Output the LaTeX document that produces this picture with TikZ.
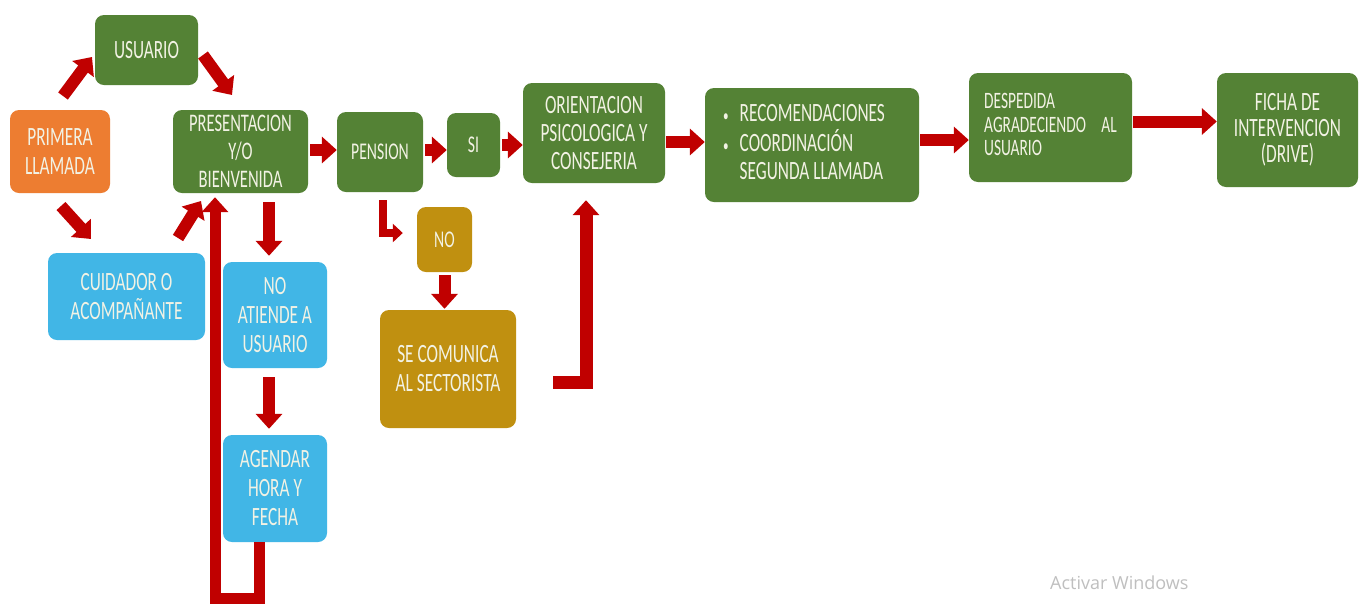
\documentclass[tikz,border=0pt]{standalone}
\usepackage{fontspec}
\setmainfont{Carlito}[FakeStretch=0.655]
\newfontfamily\wmfont{Open Sans}
\usetikzlibrary{arrows.meta,calc}
\definecolor{gr}{RGB}{84,130,53}
\definecolor{orng}{RGB}{237,125,49}
\definecolor{blu}{RGB}{65,182,230}
\definecolor{gold}{RGB}{192,144,16}
\definecolor{arrred}{RGB}{192,0,0}
\definecolor{txt}{RGB}{242,242,228}
\newcommand\fsz[2]{\fontsize{#1}{#2}\selectfont}
\tikzset{
  box/.style={rounded corners=9pt, align=center, text=txt, inner sep=2pt, font=\fsz{26.4}{29}},
  gbox/.style={box, fill=gr},
  obox/.style={box, fill=orng},
  bbox/.style={box, fill=blu},
  ybox/.style={box, fill=gold},
  arr/.style={draw=arrred, line width=12pt, line join=miter, -{Triangle[width=26pt,length=15pt]}},
  arrthin/.style={draw=arrred, line width=8pt, line join=miter, -{Triangle[width=18pt,length=10pt]}},
}
\begin{document}
\begin{tikzpicture}[x=1pt,y=-1pt]
\useasboundingbox (0,0) rectangle (1364,606);
\fill[white] (0,0) rectangle (1364,606);

% nodes
\node[gbox, minimum width=103pt, minimum height=70pt] (usuario) at (146.5,50) {USUARIO};
\node[obox, minimum width=100pt, minimum height=83pt] (primera) at (60,151.5) {PRIMERA\\LLAMADA};
\node[gbox, minimum width=135pt, minimum height=83pt, font=\fsz{25.3}{28}] (pres) at (240.5,151.5) {PRESENTACION\\Y/O\\BIENVENIDA};
\node[bbox, minimum width=157pt, minimum height=87pt] (cuid) at (126.5,296.5) {CUIDADOR O\\ACOMPAÑANTE};
\node[bbox, minimum width=104pt, minimum height=106pt] (noat) at (275,315) {NO\\ATIENDE A\\USUARIO};
\node[bbox, minimum width=104pt, minimum height=107pt] (agendar) at (275,488.5) {AGENDAR\\HORA Y\\FECHA};
\node[gbox, minimum width=86pt, minimum height=80pt, font=\fsz{24}{25}] (pension) at (380,152) {PENSION};
\node[gbox, minimum width=53pt, minimum height=64pt, font=\fsz{24}{25}] (si) at (473.5,145) {SI};
\node[ybox, minimum width=55pt, minimum height=65pt, font=\fsz{24}{25}] (no) at (444.5,239.5) {NO};
\node[ybox, minimum width=136pt, minimum height=118pt] (secom) at (448,369) {SE COMUNICA\\AL SECTORISTA};
\node[gbox, minimum width=142pt, minimum height=100pt, font=\fsz{26.4}{28}] (orient) at (594,133) {ORIENTACION\\PSICOLOGICA Y\\CONSEJERIA};
\node[gbox, minimum width=214pt, minimum height=114pt, font=\fsz{26.4}{27.5}] (reco) at (812,145)
  {\begin{tabular}{@{}l@{\hspace{11pt}}l@{}}{\fsz{17}{17}•}&RECOMENDACIONES\\{\fsz{17}{17}•}&COORDINACIÓN\\&SEGUNDA LLAMADA\end{tabular}\hspace*{16pt}};
\node[gbox, minimum width=163pt, minimum height=109pt, font=\fsz{23.5}{23.5}] (desp) at (1050.5,127.5)
  {\begin{tabular}{@{}l@{}}DESPEDIDA\\AGRADECIENDO\hspace{12pt} AL\\USUARIO\end{tabular}};
\node[gbox, minimum width=141pt, minimum height=114pt, font=\fsz{26.4}{26}] (ficha) at (1287.5,130) {FICHA DE\\INTERVENCION\\(DRIVE)};

% diagonal arrows
\coordinate (d1s) at (63,96);
\coordinate (d1e) at (92,57);
\coordinate (d2s) at (203,55);
\coordinate (d2e) at (232,95);
\coordinate (d3s) at (61,206);
\coordinate (d3e) at (91,239);
\coordinate (d4s) at (178,238);
\coordinate (d4e) at (201,201);
\draw[arr] (d1s) -- (d1e);
\draw[arr] (d2s) -- (d2e);
\draw[arr] (d3s) -- (d3e);
\draw[arr] (d4s) -- (d4e);

% horizontal main flow
\draw[arr, shorten <=2pt] ([yshift=1.5pt]pres.east) coordinate (h1) -- (h1 -| pension.west);
\draw[arr, shorten <=2pt] ([yshift=2pt]pension.east) coordinate (h2) -- (h2 -| si.west);
\draw[arr, shorten <=2pt] (si.east) -- (si.east -| orient.west);
\draw[arr, shorten <=1pt] ([yshift=-9pt]orient.east) coordinate (h4) -- (h4 -| reco.west);
\draw[arr, shorten <=1pt] ([yshift=5pt]reco.east) coordinate (h5) -- (h5 -| desp.west);
\draw[arr, shorten <=1pt] ([yshift=6pt]desp.east) coordinate (h6) -- (h6 -| ficha.west);

% vertical arrows
\draw[arr, shorten <=9pt, shorten >=6pt] ([xshift=-6pt]noat.north |- pres.south) -- ([xshift=-6pt]noat.north);
\draw[arr, shorten <=9pt, shorten >=6pt] ([xshift=-6pt]noat.south) -- ([xshift=-6pt]agendar.north);
\draw[arr, shorten <=3pt, shorten >=1pt] (no.south) -- (no.south |- secom.north);

% loop back from agendar to presentacion
\draw[arr, line width=11pt, shorten >=4pt] ([xshift=-15.5pt]agendar.south) -- ++(0,56) -| ([xshift=-25.5pt]pres.south);

% pension -> no
\draw[arrthin, shorten <=8pt, shorten >=1pt] ([xshift=3pt]pension.south) |- ([xshift=-13pt,yshift=6.5pt]no.west);

% sectorista -> orientacion
\coordinate (s1) at (553,382);
\draw[arr, line width=13pt, shorten >=17pt] (s1) -| ([xshift=-8pt]orient.south);

% watermark
\node[anchor=west, text=black!25, font=\wmfont\fontsize{18}{20}\selectfont, inner sep=0pt] (wm) at (1050,583) {Activar Windows};
\end{tikzpicture}
\end{document}
